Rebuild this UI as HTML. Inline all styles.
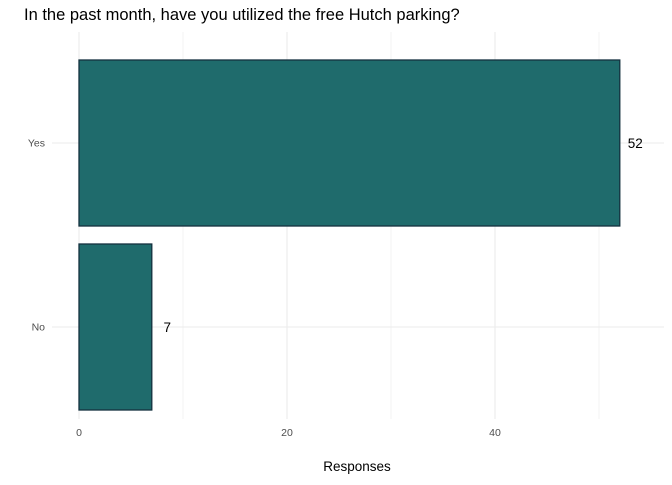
<!DOCTYPE html>
<html><head><meta charset="utf-8"><style>
body{margin:0;background:#fff;font-family:"Liberation Sans",Arial,sans-serif}
</style></head><body>
<svg width="672" height="480" xmlns="http://www.w3.org/2000/svg">
<rect width="672" height="480" fill="#fff"/>
<text x="24" y="20" font-size="16.5" fill="#000">In the past month, have you utilized the free Hutch parking?</text>
<g id="grid"></g><g id="bars"></g><g id="labels"></g>
<text x="357" y="471" font-size="13.5" text-anchor="middle" fill="#000">Responses</text>
</svg>
<script>
const categories = ["Yes","No"];
const values = [52,7];
const ticks = [0,20,40];
const minorTicks = [10,30,50];
const ns="http://www.w3.org/2000/svg";
const x0=79, pxPer=10.4, panelTop=32, panelBot=419, panelL=52, panelR=664;
const xs=v=>x0+v*pxPer;
const yc=i=>143+i*184;
const bh=166;
function mk(tag,attrs,parent){const e=document.createElementNS(ns,tag);for(const k in attrs)e.setAttribute(k,attrs[k]);document.getElementById(parent).appendChild(e);return e;}
minorTicks.forEach(t=>{const l=mk('line',{x1:xs(t),x2:xs(t),y1:panelTop,y2:panelBot,stroke:'#ebebeb','stroke-width':0.6},'grid');

});
ticks.forEach(t=>{const l=mk('line',{x1:xs(t),x2:xs(t),y1:panelTop,y2:panelBot,stroke:'#ebebeb','stroke-width':1.1},'grid');


const tx=mk('text',{x:xs(t),y:436,'font-size':10.5,'text-anchor':'middle',fill:'#4d4d4d'},'labels');tx.textContent=t;

});
categories.forEach((c,i)=>{const l=mk('line',{x1:panelL,x2:panelR,y1:yc(i),y2:yc(i),stroke:'#ebebeb','stroke-width':1.1},'grid');


const r=mk('rect',{x:xs(0),y:yc(i)-bh/2,width:xs(values[i])-xs(0),height:bh,fill:'#1f6b6c',stroke:'#14313f','stroke-width':1.3},'bars');


const lab=mk('text',{x:xs(values[i])+15.5,y:yc(i)+5,'font-size':13.5,'text-anchor':'middle',fill:'#000'},'labels');lab.textContent=values[i];


const yl=mk('text',{x:45,y:yc(i)+3.5,'font-size':10.5,'text-anchor':'end',fill:'#4d4d4d'},'labels');yl.textContent=c;

});
</script>
</body></html>
